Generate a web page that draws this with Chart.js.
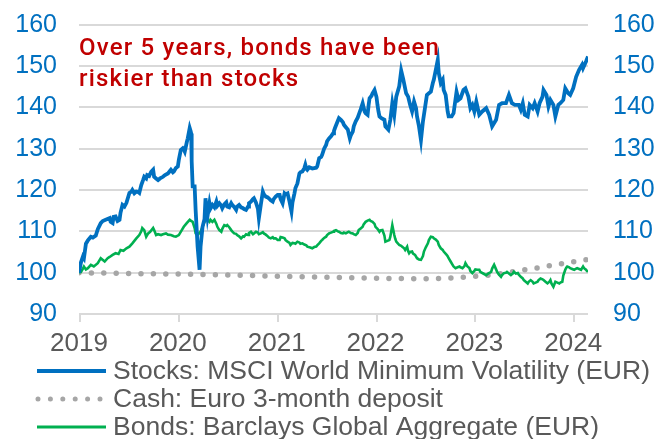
<!DOCTYPE html>
<html>
<head>
<meta charset="utf-8">
<script src="https://cdn.jsdelivr.net/npm/chart.js@4.4.1/dist/chart.umd.min.js"></script>
<style>
html,body{margin:0;padding:0;background:#fff;}
#wrap{width:667px;height:439px;position:relative;}
</style>
</head>
<body>
<div id="wrap"><canvas id="c" width="667" height="439"></canvas></div>
<script>
// ---------- DATA ----------
const yearTicks = [2019, 2020, 2021, 2022, 2023, 2024];
const gridValues = [90, 100, 110, 120, 130, 140, 150, 160];
const seriesLabels = [
  "Stocks: MSCI World Minimum Volatility (EUR)",
  "Cash: Euro 3-month deposit",
  "Bonds: Barclays Global Aggregate (EUR)"
];
const titleLines = ["Over 5 years, bonds have been", "riskier than stocks"];

const stockDates = [2019.00,2019.02,2019.04,2019.05,2019.07,2019.09,2019.12,2019.14,2019.17,2019.19,2019.22,2019.24,2019.27,2019.31,2019.32,2019.34,2019.35,2019.37,2019.39,2019.41,2019.42,2019.44,2019.46,2019.48,2019.50,2019.51,2019.53,2019.54,2019.56,2019.58,2019.60,2019.61,2019.63,2019.65,2019.66,2019.68,2019.69,2019.71,2019.73,2019.75,2019.76,2019.78,2019.80,2019.82,2019.85,2019.87,2019.90,2019.92,2019.93,2019.95,2019.96,2019.98,2020.00,2020.01,2020.03,2020.05,2020.06,2020.07,2020.09,2020.10,2020.12,2020.13,2020.135,2020.14,2020.15,2020.17,2020.18,2020.20,2020.22,2020.23,2020.25,2020.27,2020.28,2020.30,2020.32,2020.33,2020.35,2020.37,2020.39,2020.40,2020.42,2020.44,2020.45,2020.47,2020.49,2020.50,2020.52,2020.54,2020.55,2020.57,2020.59,2020.60,2020.62,2020.64,2020.66,2020.67,2020.69,2020.71,2020.72,2020.74,2020.76,2020.77,2020.79,2020.81,2020.82,2020.84,2020.86,2020.87,2020.89,2020.91,2020.92,2020.94,2020.96,2020.97,2020.99,2021.01,2021.03,2021.04,2021.06,2021.08,2021.09,2021.11,2021.13,2021.14,2021.15,2021.16,2021.18,2021.19,2021.21,2021.23,2021.24,2021.26,2021.28,2021.29,2021.30,2021.31,2021.33,2021.35,2021.36,2021.38,2021.40,2021.41,2021.43,2021.45,2021.46,2021.48,2021.50,2021.51,2021.53,2021.55,2021.57,2021.58,2021.59,2021.61,2021.63,2021.65,2021.67,2021.68,2021.70,2021.72,2021.73,2021.74,2021.75,2021.77,2021.78,2021.80,2021.82,2021.83,2021.85,2021.87,2021.88,2021.89,2021.90,2021.92,2021.93,2021.94,2021.96,2021.97,2021.98,2021.99,2022.01,2022.02,2022.03,2022.04,2022.06,2022.09,2022.10,2022.13,2022.15,2022.17,2022.19,2022.21,2022.24,2022.26,2022.28,2022.31,2022.33,2022.35,2022.37,2022.39,2022.41,2022.42,2022.44,2022.46,2022.48,2022.50,2022.52,2022.54,2022.56,2022.58,2022.59,2022.61,2022.63,2022.64,2022.66,2022.68,2022.69,2022.71,2022.73,2022.74,2022.77,2022.79,2022.82,2022.84,2022.86,2022.89,2022.91,2022.94,2022.96,2022.98,2023.00,2023.02,2023.05,2023.08,2023.12,2023.15,2023.18,2023.22,2023.25,2023.28,2023.32,2023.35,2023.38,2023.41,2023.45,2023.47,2023.49,2023.51,2023.54,2023.56,2023.59,2023.61,2023.64,2023.66,2023.69,2023.70,2023.73,2023.75,2023.77,2023.80,2023.82,2023.85,2023.87,2023.90,2023.92,2023.95,2023.97,2024.00,2024.03,2024.06,2024.09,2024.10,2024.13,2024.15];
const stockValues = [100.0,102.5,103.9,103.5,107.0,107.8,108.7,108.5,109.0,110.5,112.0,112.5,112.8,113.2,112.3,112.0,113.5,113.6,112.5,112.8,114.5,116.4,116.0,116.9,118.5,119.3,119.6,120.0,119.2,119.6,119.5,119.3,121.2,122.5,123.2,122.8,123.6,123.4,124.4,124.9,123.2,122.8,122.4,122.8,123.2,123.6,124.0,124.6,124.9,124.3,124.5,125.3,125.7,127.3,129.7,130.1,129.8,129.3,131.5,132.5,135.0,134.2,133.7,127.0,120.9,120.9,115.2,106.3,100.7,106.3,111.1,113.0,118.0,113.6,116.8,115.5,116.4,115.8,117.2,116.2,116.8,116.2,115.6,116.5,117.0,116.0,115.8,116.8,116.4,115.9,115.2,116.0,116.4,115.8,115.6,115.4,115.2,116.0,116.8,117.2,117.8,118.0,117.0,115.5,113.2,116.5,119.6,119.0,118.4,118.2,118.0,117.5,117.2,117.8,118.4,118.8,118.8,117.8,116.8,119.2,119.0,119.2,117.2,116.0,114.8,117.0,119.2,120.5,121.6,124.0,124.3,124.5,125.3,126.1,125.2,124.9,125.5,125.3,125.2,125.3,125.4,125.7,127.7,128.0,128.5,130.0,130.9,131.8,132.5,133.0,133.7,134.3,135.0,136.2,137.4,137.0,136.4,135.8,135.2,134.6,133.5,132.5,133.2,134.1,135.4,136.6,137.5,138.2,139.5,141.0,140.0,139.0,138.6,138.2,140.5,142.2,142.8,143.4,143.8,144.2,142.5,140.6,139.0,137.8,137.4,137.0,135.4,134.6,137.0,141.0,138.2,142.6,145.1,148.9,146.9,143.4,142.6,140.6,139.0,141.4,139.8,137.8,135.4,132.1,136.6,139.8,143.0,143.4,143.8,145.9,146.7,149.1,151.5,148.3,145.9,146.7,144.2,143.0,139.0,137.8,137.8,138.6,143.8,141.8,142.2,144.2,144.6,142.6,139.8,140.6,139.0,141.4,138.2,139.0,139.8,138.2,135.4,137.0,140.6,141.0,141.0,143.0,141.0,140.6,140.6,139.4,141.0,138.2,137.8,140.6,139.8,141.0,139.0,141.0,142.6,144.2,143.0,140.2,141.8,140.6,137.8,140.6,141.0,141.8,144.6,143.4,143.0,144.6,147.4,149.1,150.3,149.5,151.1,152.3];

const cashDates  = [2019.0, 2019.5, 2020.0, 2020.5, 2021.0, 2021.5, 2022.0, 2022.5, 2022.7, 2022.85, 2023.0, 2023.2, 2023.4, 2023.6, 2023.8, 2024.0, 2024.15];
const cashValues = [100.0, 99.8, 99.65, 99.45, 99.15, 98.9, 98.65, 98.5, 98.6, 98.85, 99.1, 99.5, 100.3, 101.0, 101.85, 102.65, 103.2];

const bondDates = [2019.00,2019.02,2019.04,2019.05,2019.07,2019.09,2019.12,2019.15,2019.19,2019.22,2019.26,2019.29,2019.31,2019.34,2019.37,2019.40,2019.42,2019.45,2019.48,2019.51,2019.54,2019.58,2019.61,2019.63,2019.64,2019.66,2019.68,2019.70,2019.72,2019.75,2019.76,2019.78,2019.80,2019.83,2019.85,2019.88,2019.90,2019.93,2019.96,2019.98,2020.01,2020.04,2020.06,2020.09,2020.12,2020.13,2020.15,2020.17,2020.18,2020.20,2020.22,2020.23,2020.25,2020.27,2020.28,2020.30,2020.32,2020.33,2020.35,2020.37,2020.39,2020.40,2020.42,2020.44,2020.45,2020.47,2020.49,2020.50,2020.52,2020.54,2020.55,2020.57,2020.59,2020.60,2020.62,2020.64,2020.66,2020.67,2020.69,2020.71,2020.72,2020.74,2020.76,2020.77,2020.79,2020.81,2020.82,2020.84,2020.86,2020.87,2020.89,2020.91,2020.92,2020.94,2020.96,2020.97,2020.99,2021.01,2021.03,2021.04,2021.06,2021.08,2021.09,2021.11,2021.13,2021.14,2021.16,2021.18,2021.19,2021.21,2021.23,2021.24,2021.26,2021.28,2021.30,2021.31,2021.34,2021.36,2021.38,2021.40,2021.41,2021.43,2021.45,2021.46,2021.48,2021.50,2021.51,2021.53,2021.55,2021.57,2021.58,2021.60,2021.62,2021.63,2021.65,2021.67,2021.68,2021.70,2021.72,2021.73,2021.75,2021.77,2021.78,2021.80,2021.82,2021.83,2021.85,2021.87,2021.88,2021.90,2021.92,2021.94,2021.95,2021.97,2021.99,2022.00,2022.02,2022.04,2022.05,2022.07,2022.09,2022.10,2022.12,2022.14,2022.15,2022.17,2022.19,2022.20,2022.21,2022.23,2022.24,2022.26,2022.27,2022.29,2022.30,2022.32,2022.33,2022.34,2022.35,2022.37,2022.38,2022.40,2022.42,2022.44,2022.46,2022.48,2022.49,2022.51,2022.53,2022.54,2022.56,2022.58,2022.59,2022.61,2022.63,2022.64,2022.66,2022.68,2022.69,2022.72,2022.73,2022.74,2022.76,2022.78,2022.79,2022.81,2022.83,2022.85,2022.86,2022.88,2022.90,2022.91,2022.93,2022.95,2022.96,2022.98,2023.00,2023.01,2023.03,2023.05,2023.06,2023.09,2023.12,2023.14,2023.17,2023.18,2023.20,2023.22,2023.23,2023.25,2023.27,2023.28,2023.30,2023.32,2023.33,2023.35,2023.37,2023.39,2023.40,2023.42,2023.44,2023.45,2023.47,2023.49,2023.50,2023.52,2023.54,2023.55,2023.57,2023.59,2023.60,2023.62,2023.64,2023.65,2023.67,2023.69,2023.70,2023.72,2023.74,2023.76,2023.77,2023.78,2023.80,2023.81,2023.82,2023.84,2023.86,2023.87,2023.89,2023.90,2023.92,2023.93,2023.94,2023.96,2023.97,2023.99,2024.01,2024.03,2024.04,2024.06,2024.08,2024.09,2024.10,2024.11,2024.13,2024.14,2024.15];
const bondValues = [100.0,100.2,101.0,101.5,100.8,101.1,101.9,101.5,102.3,103.5,102.7,103.5,103.8,104.3,104.7,104.5,105.5,105.3,105.9,106.3,107.1,108.3,109.1,110.0,110.8,110.3,108.7,109.5,109.9,110.8,110.3,109.1,109.3,109.1,109.3,109.5,109.2,109.1,108.8,108.7,109.1,110.3,111.1,112.0,112.8,112.6,112.3,110.8,109.5,109.1,109.7,109.9,111.1,112.3,112.6,112.8,112.3,112.8,112.3,112.8,111.8,111.1,110.3,109.9,110.6,111.5,111.3,111.5,111.0,110.3,110.0,109.5,109.4,109.1,108.8,108.3,108.8,108.7,109.3,109.1,109.6,109.9,109.3,109.5,109.9,109.7,109.3,109.5,109.8,109.5,109.2,108.8,108.5,108.3,108.6,108.3,108.3,107.9,107.9,108.6,108.5,108.3,107.9,107.5,107.2,106.7,107.2,107.1,107.0,107.5,107.3,107.0,107.1,106.8,106.6,106.3,106.1,105.9,106.2,106.3,106.6,107.1,107.7,107.9,108.4,108.7,109.1,109.5,109.7,109.9,110.1,110.3,110.0,109.9,109.6,109.5,109.7,109.5,109.8,109.9,109.6,109.5,109.3,109.1,109.6,110.3,110.7,111.1,111.7,112.3,112.6,112.8,112.5,112.3,111.8,111.1,110.6,109.9,110.2,110.3,109.0,107.5,107.7,107.9,108.7,111.5,109.1,108.2,107.5,107.0,106.7,106.5,106.3,105.9,105.5,106.3,105.2,104.7,105.0,105.1,104.6,104.3,103.5,103.2,103.1,104.0,105.1,106.2,107.1,107.9,108.7,108.6,108.3,108.0,107.5,106.7,105.9,105.5,105.1,104.3,104.0,103.5,102.7,101.9,101.5,101.1,101.3,101.5,101.3,101.1,101.6,102.3,101.5,101.1,100.4,99.9,100.4,100.8,100.7,100.7,100.2,99.8,99.4,99.8,100.2,101.0,101.9,100.8,100.2,99.5,99.0,99.4,99.9,100.0,100.2,99.8,99.4,99.8,100.2,99.8,99.9,99.5,99.0,98.6,98.2,97.8,97.4,97.8,98.2,97.8,97.4,97.6,97.8,98.2,98.6,98.4,98.2,97.8,97.4,97.8,98.2,97.4,96.6,97.2,97.8,97.6,97.4,97.6,97.8,99.3,100.7,101.2,101.5,101.3,101.1,100.9,100.7,101.0,101.1,100.9,100.7,101.1,101.5,101.1,100.7,100.4,100.2];

// ---------- CHART ----------
const FONT = "'Liberation Sans', Arial, sans-serif";
const GRID = '#D9D9D9';
Chart.defaults.font.family = FONT;

const toPts = (xs, ys) => xs.map((x, i) => ({ x: x, y: ys[i] }));

// grid, axis line and tick marks drawn from the library's scales
function paintGrid(chart) {
  const ctx = chart.ctx, a = chart.chartArea;
  const ys = chart.scales.y, xs = chart.scales.x;
  ctx.save();
  ctx.setLineDash([]);
  ctx.globalAlpha = 1;
  ctx.globalCompositeOperation = 'source-over';
  ctx.fillStyle = GRID;
  gridValues.forEach(v => {
    const py = Math.round(ys.getPixelForValue(v));
    ctx.fillRect(a.left, py - 1, a.right - a.left, 2);
  });
  yearTicks.forEach(v => {
    const px = Math.round(xs.getPixelForValue(v));
    ctx.fillRect(px, a.bottom, 2, 8);
  });
  ctx.restore();
}
const gridDraw = {
  id: 'gridDraw',
  beforeDatasetsDraw(chart) { paintGrid(chart); }
};

const customDraw = {
  id: 'customDraw',
  afterDraw(chart) {
    const ctx = chart.ctx;
    ctx.save();
    // title annotation
    ctx.fillStyle = '#C00000';
    ctx.font = "500 24px Roboto, 'Liberation Sans', sans-serif";
    if ('letterSpacing' in ctx) ctx.letterSpacing = '1.2px';
    ctx.textBaseline = 'alphabetic';
    ctx.textAlign = 'left';
    ctx.fillText(titleLines[0], 79, 55);
    ctx.fillText(titleLines[1], 79, 86);
    if ('letterSpacing' in ctx) ctx.letterSpacing = '0px';
    // legend
    const rows = [371, 399, 427];
    chart.data.datasets.forEach((ds, i) => {
      const y = rows[i];
      ctx.save();
      ctx.strokeStyle = ds.borderColor;
      ctx.lineWidth = ds.legendWidth;
      ctx.lineCap = ds.borderCapStyle || 'butt';
      ctx.setLineDash(ds.borderDash || []);
      ctx.beginPath();
      if (ds.borderDash && ds.borderDash.length) {
        ctx.moveTo(38, y); ctx.lineTo(103, y);
      } else {
        ctx.moveTo(37, y); ctx.lineTo(106, y);
      }
      ctx.stroke();
      ctx.restore();
      ctx.fillStyle = '#595959';
      ctx.font = "26.5px " + FONT;
      ctx.textBaseline = 'middle';
      ctx.fillText(ds.label, 113, y + 1);
    });
    ctx.restore();
  }
};

new Chart(document.getElementById('c'), {
  type: 'line',
  data: {
    datasets: [
      {
        label: seriesLabels[0],
        data: toPts(stockDates, stockValues),
        borderColor: '#0070C0',
        borderWidth: 3.8,
        legendWidth: 4,
        pointRadius: 0,
        tension: 0,
        yAxisID: 'y',
        order: 1
      },
      {
        label: seriesLabels[1],
        data: toPts(cashDates, cashValues),
        borderColor: '#A6A6A6',
        borderWidth: 5.5,
        legendWidth: 5,
        borderDash: [0, 12.4],
        borderCapStyle: 'round',
        pointRadius: 0,
        tension: 0,
        yAxisID: 'y',
        order: 3
      },
      {
        label: seriesLabels[2],
        data: toPts(bondDates, bondValues),
        borderColor: '#00B050',
        borderWidth: 2.6,
        legendWidth: 3,
        pointRadius: 0,
        tension: 0,
        yAxisID: 'y',
        order: 2
      }
    ]
  },
  options: {
    responsive: false,
    animation: false,
    events: [],
    layout: { padding: { top: 24.7, bottom: 0, left: 0, right: 0 } },
    plugins: { legend: { display: false }, tooltip: { enabled: false }, title: { display: false } },
    scales: {
      x: {
        type: 'linear',
        min: 2019,
        max: 2024.15,
        afterBuildTicks: (s) => { s.ticks = yearTicks.map(v => ({ value: v })); },
        afterFit: (s) => { s.height = 125; },
        grid: { display: true, drawOnChartArea: false, drawTicks: true, tickLength: 7, color: GRID, tickColor: 'rgba(0,0,0,0)', lineWidth: 2 },
        border: { display: false },
        ticks: {
          color: '#595959',
          font: { size: 26 },
          padding: 7,
          maxRotation: 0,
          autoSkip: false,
          callback: (v) => String(v)
        }
      },
      y: {
        position: 'left',
        min: 90, max: 160,
        afterFit: (s) => { s.width = 79; },
        grid: { display: true, drawOnChartArea: false, color: GRID, lineWidth: 2, drawTicks: true, tickLength: 22, tickColor: 'rgba(0,0,0,0)' },
        border: { display: false },
        ticks: { stepSize: 10, color: '#0070C0', font: { size: 25 }, padding: 0 }
      },
      y2: {
        position: 'right',
        min: 90, max: 160,
        afterFit: (s) => { s.width = 79; },
        grid: { display: true, drawOnChartArea: false, drawTicks: true, tickLength: 25, tickColor: 'rgba(0,0,0,0)' },
        border: { display: false },
        ticks: { stepSize: 10, color: '#0070C0', font: { size: 25 }, padding: 0 }
      }
    }
  },
  plugins: [gridDraw, customDraw]
});
</script>
</body>
</html>
